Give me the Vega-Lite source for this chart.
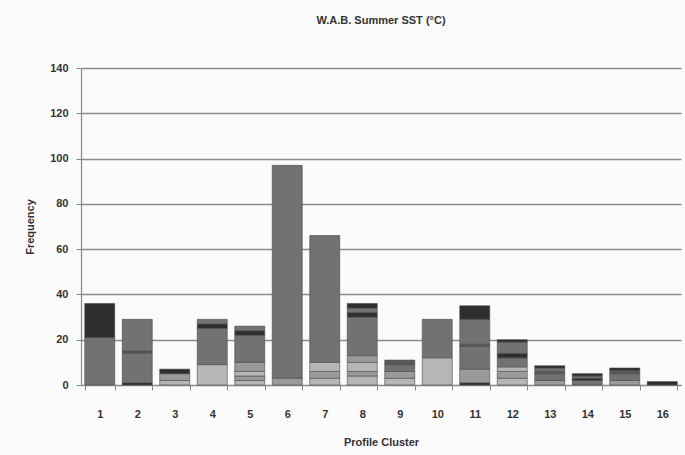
{
  "$schema": "https://vega.github.io/schema/vega-lite/v6.json",
  "autosize": "none",
  "width": 600,
  "height": 317,
  "padding": {"left": 81, "top": 68, "right": 4, "bottom": 70},
  "background": "#fbfbfb",
  "title": {"text": "W.A.B. Summer SST (°C)", "font": "Liberation Sans", "fontSize": 11, "fontWeight": "bold", "color": "#333333", "offset": 36, "anchor": "middle"},
  "config": {"view": {"stroke": null}},
  "data": {"values": [
    {"cluster": "1", "seg": 1, "sst": "c3", "n": 21},
    {"cluster": "1", "seg": 2, "sst": "c5", "n": 15},
    {"cluster": "2", "seg": 1, "sst": "c5", "n": 1},
    {"cluster": "2", "seg": 2, "sst": "c3", "n": 13},
    {"cluster": "2", "seg": 3, "sst": "c4", "n": 1},
    {"cluster": "2", "seg": 4, "sst": "c3", "n": 14},
    {"cluster": "3", "seg": 1, "sst": "c1", "n": 2},
    {"cluster": "3", "seg": 2, "sst": "c2", "n": 3},
    {"cluster": "3", "seg": 3, "sst": "c5", "n": 2},
    {"cluster": "4", "seg": 1, "sst": "c1", "n": 9},
    {"cluster": "4", "seg": 2, "sst": "c3", "n": 16},
    {"cluster": "4", "seg": 3, "sst": "c5", "n": 2},
    {"cluster": "4", "seg": 4, "sst": "c3", "n": 2},
    {"cluster": "5", "seg": 1, "sst": "c1", "n": 2},
    {"cluster": "5", "seg": 2, "sst": "c2", "n": 2},
    {"cluster": "5", "seg": 3, "sst": "c1", "n": 2},
    {"cluster": "5", "seg": 4, "sst": "c2", "n": 4},
    {"cluster": "5", "seg": 5, "sst": "c3", "n": 12},
    {"cluster": "5", "seg": 6, "sst": "c5", "n": 2},
    {"cluster": "5", "seg": 7, "sst": "c3", "n": 2},
    {"cluster": "6", "seg": 1, "sst": "c2", "n": 3},
    {"cluster": "6", "seg": 2, "sst": "c3", "n": 94},
    {"cluster": "7", "seg": 1, "sst": "c1", "n": 3},
    {"cluster": "7", "seg": 2, "sst": "c2", "n": 3},
    {"cluster": "7", "seg": 3, "sst": "c1", "n": 4},
    {"cluster": "7", "seg": 4, "sst": "c3", "n": 56},
    {"cluster": "8", "seg": 1, "sst": "c1", "n": 4},
    {"cluster": "8", "seg": 2, "sst": "c2", "n": 2},
    {"cluster": "8", "seg": 3, "sst": "c1", "n": 4},
    {"cluster": "8", "seg": 4, "sst": "c2", "n": 3},
    {"cluster": "8", "seg": 5, "sst": "c3", "n": 17},
    {"cluster": "8", "seg": 6, "sst": "c5", "n": 2},
    {"cluster": "8", "seg": 7, "sst": "c3", "n": 2},
    {"cluster": "8", "seg": 8, "sst": "c5", "n": 2},
    {"cluster": "9", "seg": 1, "sst": "c1", "n": 3},
    {"cluster": "9", "seg": 2, "sst": "c2", "n": 3},
    {"cluster": "9", "seg": 3, "sst": "c3", "n": 3},
    {"cluster": "9", "seg": 4, "sst": "c4", "n": 2},
    {"cluster": "10", "seg": 1, "sst": "c1", "n": 12},
    {"cluster": "10", "seg": 2, "sst": "c3", "n": 17},
    {"cluster": "11", "seg": 1, "sst": "c5", "n": 1},
    {"cluster": "11", "seg": 2, "sst": "c2", "n": 6},
    {"cluster": "11", "seg": 3, "sst": "c3", "n": 10},
    {"cluster": "11", "seg": 4, "sst": "c4", "n": 1},
    {"cluster": "11", "seg": 5, "sst": "c3", "n": 11},
    {"cluster": "11", "seg": 6, "sst": "c5", "n": 6},
    {"cluster": "12", "seg": 1, "sst": "c1", "n": 3},
    {"cluster": "12", "seg": 2, "sst": "c2", "n": 3},
    {"cluster": "12", "seg": 3, "sst": "c1", "n": 2},
    {"cluster": "12", "seg": 4, "sst": "c3", "n": 4},
    {"cluster": "12", "seg": 5, "sst": "c5", "n": 2},
    {"cluster": "12", "seg": 6, "sst": "c3", "n": 5},
    {"cluster": "12", "seg": 7, "sst": "c5", "n": 1},
    {"cluster": "13", "seg": 1, "sst": "c2", "n": 2},
    {"cluster": "13", "seg": 2, "sst": "c3", "n": 3},
    {"cluster": "13", "seg": 3, "sst": "c4", "n": 1},
    {"cluster": "13", "seg": 4, "sst": "c3", "n": 1.5},
    {"cluster": "13", "seg": 5, "sst": "c5", "n": 1},
    {"cluster": "14", "seg": 1, "sst": "c3", "n": 2},
    {"cluster": "14", "seg": 2, "sst": "c5", "n": 1},
    {"cluster": "14", "seg": 3, "sst": "c3", "n": 1},
    {"cluster": "14", "seg": 4, "sst": "c5", "n": 1},
    {"cluster": "15", "seg": 1, "sst": "c2", "n": 2},
    {"cluster": "15", "seg": 2, "sst": "c3", "n": 3},
    {"cluster": "15", "seg": 3, "sst": "c4", "n": 1.5},
    {"cluster": "15", "seg": 4, "sst": "c5", "n": 1},
    {"cluster": "16", "seg": 1, "sst": "c5", "n": 1.5}
  ]},
  "mark": {"type": "bar", "stroke": "#4a4a4a", "strokeWidth": 0.6},
  "encoding": {
    "x": {
      "field": "cluster", "type": "ordinal",
      "sort": ["1","2","3","4","5","6","7","8","9","10","11","12","13","14","15","16"],
      "scale": {"paddingInner": 0.2, "paddingOuter": 0.1},
      "axis": {
        "title": "Profile Cluster", "titleFont": "Liberation Sans", "titleFontSize": 11, "titleFontWeight": "bold", "titleColor": "#333333", "titlePadding": 17,
        "labelAngle": 0, "labelFont": "Liberation Sans", "labelFontSize": 11, "labelFontWeight": "bold", "labelColor": "#333333", "labelPadding": 18,
        "tickBand": "extent", "tickSize": 5, "tickColor": "#888888", "domainColor": "#888888", "domainWidth": 1.2, "grid": false
      }
    },
    "y": {
      "field": "n", "type": "quantitative", "stack": "zero",
      "scale": {"domain": [0, 140]},
      "axis": {
        "title": "Frequency", "titleFont": "Liberation Sans", "titleFontSize": 11, "titleFontWeight": "bold", "titleColor": "#333333", "titlePadding": 14,
        "values": [0, 20, 40, 60, 80, 100, 120, 140],
        "labelFont": "Liberation Sans", "labelFontSize": 11, "labelFontWeight": "bold", "labelColor": "#333333", "labelPadding": 8,
        "tickSize": 5, "tickColor": "#888888", "domainColor": "#888888", "domainWidth": 1.2,
        "grid": true, "gridColor": "#8c8c8c", "gridWidth": 1.4
      }
    },
    "color": {
      "field": "sst", "type": "nominal", "legend": null,
      "scale": {"domain": ["c1", "c2", "c3", "c4", "c5"], "range": ["#b6b6b6", "#9a9a9a", "#727272", "#575757", "#2e2e2e"]}
    },
    "order": {"field": "seg", "type": "quantitative", "sort": "ascending"}
  }
}
